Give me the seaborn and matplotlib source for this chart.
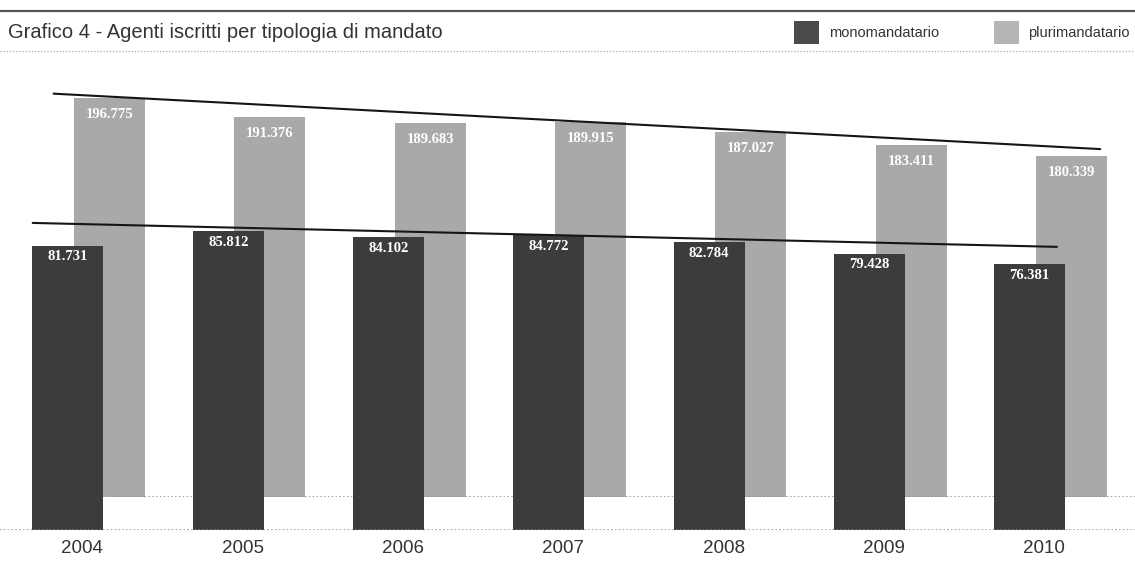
import numpy as np
import pandas as pd
import matplotlib.pyplot as plt
from matplotlib.patches import Rectangle
import seaborn as sns

# Data (agenti iscritti)
anni = ["2004", "2005", "2006", "2007", "2008", "2009", "2010"]
monomandatario = [81731, 85812, 84102, 84772, 82784, 79428, 76381]
plurimandatario = [196775, 191376, 189683, 189915, 187027, 183411, 180339]

dark = "#3c3c3c"
light = "#a9a9a9"

sns.set_theme(style="white")
plt.rcParams["font.family"] = ["Liberation Sans", "DejaVu Sans"]

W, H = 1135, 561
fig = plt.figure(figsize=(W / 100, H / 100), dpi=100)
fig.patch.set_facecolor("white")


def fy(px):
    return 1 - px / H


pos = np.arange(len(anni))
df = pd.DataFrame({"anno": anni, "pos": pos, "mono": monomandatario, "pluri": plurimandatario})
df["x_mono"] = df["pos"] - 0.13
df["x_pluri"] = df["pos"] + 0.13

xlim = (-0.554, 6.527)

# back axes: plurimandatario (truncated baseline, drawn behind)
ax_b = fig.add_axes([0, fy(497), 1, (497 - 60) / H])
sns.barplot(data=df, x="x_pluri", y="pluri", native_scale=True, width=0.443,
            color=light, saturation=1, errorbar=None, orient="x", ax=ax_b,
            linewidth=0, edgecolor="none")
ax_b.set_ylim(82800, 82800 + 437 / 3.5 * 1000)

# front axes: monomandatario
ax_f = fig.add_axes([0, fy(530), 1, (530 - 60) / H])
sns.barplot(data=df, x="x_mono", y="mono", native_scale=True, width=0.443,
            color=dark, saturation=1, errorbar=None, orient="x", ax=ax_f,
            linewidth=0, edgecolor="none")
ax_f.set_ylim(0, 470 / 3.48 * 1000)
ax_f.patch.set_alpha(0)

for ax in (ax_b, ax_f):
    ax.set_xlim(*xlim)
    ax.set_xlabel("")
    ax.set_ylabel("")
    ax.set_yticks([])
    sns.despine(ax=ax, left=True, bottom=True)

ax_b.set_xticks([])
ax_b.axhline(ax_b.get_ylim()[0], color="#888888", lw=1.1, ls=(0, (1, 1.5)), xmin=0.1)
ax_f.axhline(0, color="#888888", lw=1.1, ls=(0, (1, 1.5)))

ax_f.set_xticks(pos - 0.04)
ax_f.set_xticklabels(anni, fontsize=13.5, color="#333333")
ax_f.tick_params(axis="x", length=0, pad=7)


def fmt(v):
    return f"{v:,}".replace(",", ".")


# value labels inside bar tops
for x, v in zip(df["x_pluri"], df["pluri"]):
    ax_b.annotate(fmt(v), (x, v), xytext=(0, -12), textcoords="offset points",
                  ha="center", va="center", color="white", fontsize=10.5,
                  fontweight="bold", family=["Liberation Serif", "DejaVu Serif"])
for x, v in zip(df["x_mono"], df["mono"]):
    ax_f.annotate(fmt(v), (x, v), xytext=(0, -8), textcoords="offset points",
                  ha="center", va="center", color="white", fontsize=10.5,
                  fontweight="bold", family=["Liberation Serif", "DejaVu Serif"])

# trend lines (linear fit shifted to the highest bar)
def trend(xb, vals, x0, x1):
    coef = np.polyfit(xb, vals, 1)
    shift = np.max(np.asarray(vals) - np.polyval(coef, xb))
    xs = np.array([x0, x1])
    return xs, np.polyval(coef, xs) + shift


xs, ys = trend(df["x_pluri"], df["pluri"], -0.22, 6.31)
ax_b.plot(xs, ys, color="#151515", lw=1.5, clip_on=False)
xs, ys = trend(df["x_mono"], df["mono"], -0.35, 6.04)
ax_f.plot(xs, ys, color="#151515", lw=1.5, clip_on=False)

# header
fig.add_artist(plt.Line2D([0, 1], [fy(11), fy(11)], color="#555555", lw=1.6))
fig.add_artist(plt.Line2D([0, 1], [fy(51), fy(51)], color="#aaaaaa", lw=0.9, ls=(0, (1, 1.5))))
fig.text(8 / W, fy(33), "Grafico 4 - Agenti iscritti per tipologia di mandato",
         fontsize=14.5, color="#333333", va="center", ha="left")

fig.add_artist(Rectangle((794 / W, fy(44)), 25 / W, 23 / H, transform=fig.transFigure,
                         color="#4a4a4a", lw=0))
fig.text(829 / W, fy(33), "monomandatario", fontsize=10.5, color="#333333", va="center")
fig.add_artist(Rectangle((994 / W, fy(44)), 25 / W, 23 / H, transform=fig.transFigure,
                         color="#b5b5b5", lw=0))
fig.text(1028 / W, fy(33), "plurimandatario", fontsize=10.5, color="#333333", va="center")

fig.savefig("out.png", dpi=100)
